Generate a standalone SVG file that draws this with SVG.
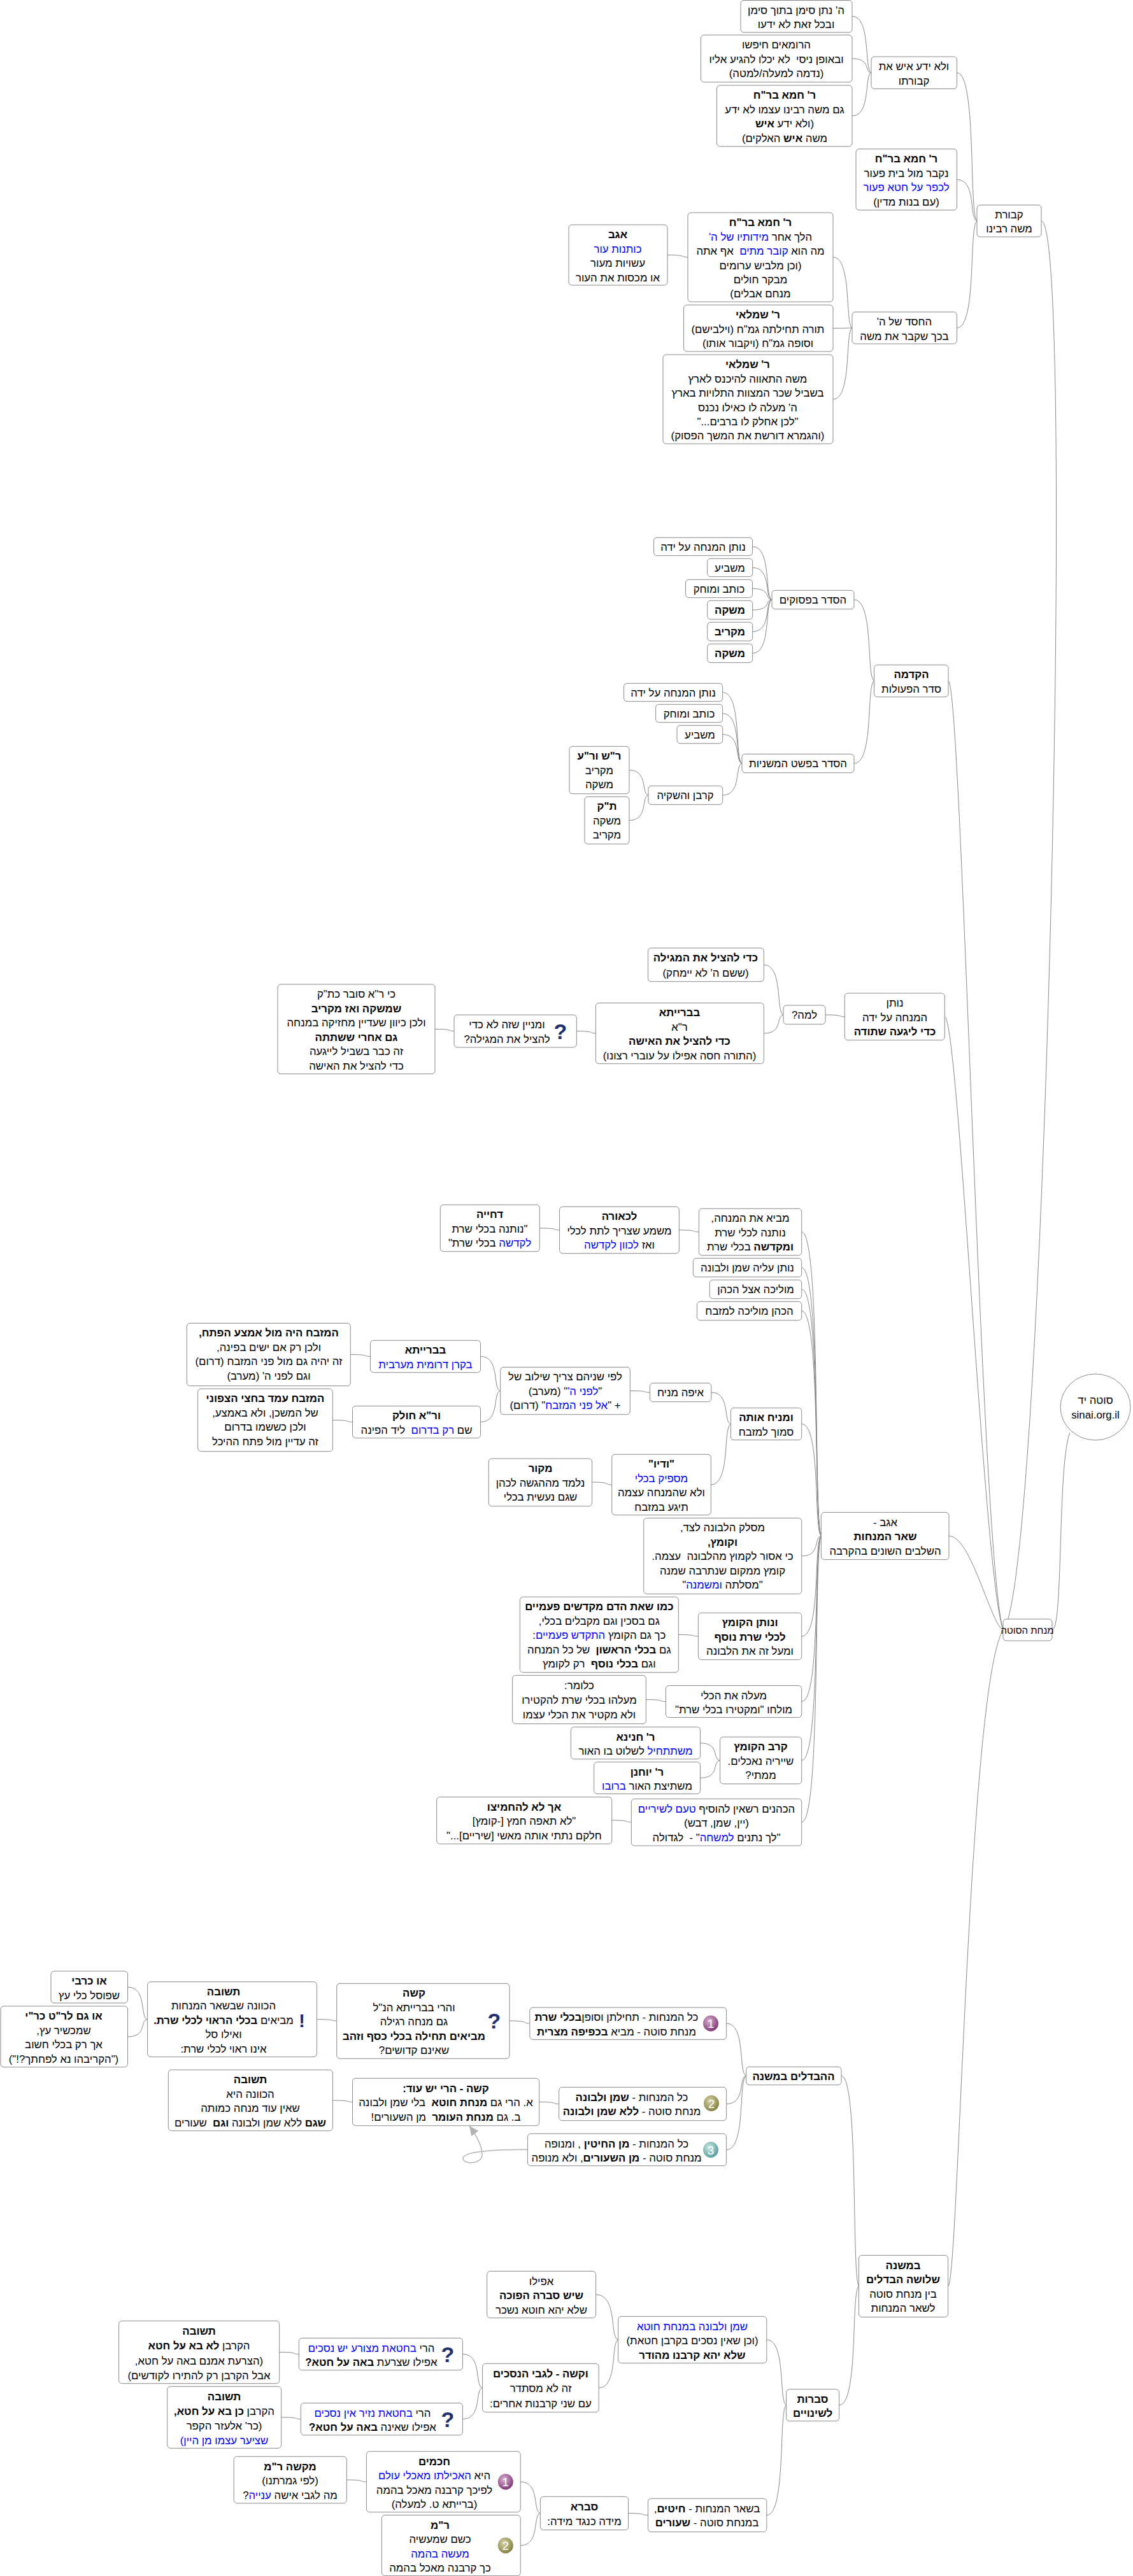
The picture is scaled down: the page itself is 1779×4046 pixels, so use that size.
<svg xmlns="http://www.w3.org/2000/svg" width="1779" height="4046" viewBox="0 0 1779 4046">
<style>
svg{background:#fff}
rect.b{fill:#fff;stroke:#888;stroke-width:1;rx:5px;ry:5px}
text{font-family:"Liberation Sans","Noto Sans",Arial,sans-serif;font-size:16.8px;fill:#000;text-anchor:middle;direction:rtl;white-space:pre}
.h{font-weight:bold}
.u{fill:#00f}
#conn path{fill:none;stroke:#888;stroke-width:1}
#conn path.loop{stroke:#b3b3b3;stroke-width:1.5}
.q{font-family:"Liberation Sans",sans-serif;font-size:34px;font-weight:bold;fill:#1f2f6b;direction:ltr}
.num{font-size:19px;fill:#fff;direction:ltr}
</style>
<defs>
<marker id="ah" markerUnits="userSpaceOnUse" markerWidth="16" markerHeight="14" refX="15" refY="7" orient="auto"><path d="M0 0L15 7L0 14Z" fill="#b3b3b3"/></marker>
<radialGradient id="g1" cx=".4" cy=".35" r=".7"><stop offset="0" stop-color="#d8b4d0"/><stop offset="1" stop-color="#7a2f72"/></radialGradient>
<radialGradient id="g2" cx=".4" cy=".35" r=".7"><stop offset="0" stop-color="#d8d4a8"/><stop offset="1" stop-color="#7f7a3c"/></radialGradient>
<radialGradient id="g3" cx=".4" cy=".35" r=".7"><stop offset="0" stop-color="#cfe8e6"/><stop offset="1" stop-color="#4f9a9a"/></radialGradient>
</defs>
<g id="conn">
<path d="M1338 25.5C1368 25.5 1356.6 109.9 1368 114.3"/>
<path d="M1338 92C1368 92 1356.6 113.2 1368 114.3"/>
<path d="M1338 182C1368 182 1356.6 117.7 1368 114.3"/>
<path d="M1502.5 114.3C1534 114.3 1521 335.4 1534 347"/>
<path d="M1502.5 282C1534 282 1521 343.8 1534 347"/>
<path d="M1502.5 515C1534 515 1521 355.4 1534 347"/>
<path d="M1308 404C1338 404 1326.6 509.5 1338 515"/>
<path d="M1308 515.5C1338 515.5 1326.6 515 1338 515"/>
<path d="M1308 627C1338 627 1326.6 520.6 1338 515"/>
<path d="M1048 400.5C1080 400.5 1067 403.8 1080 404"/>
<path d="M1341 942C1372.5 942 1360 1063 1372.5 1069.5"/>
<path d="M1341 1199C1372.5 1199 1360 1076 1372.5 1069.5"/>
<path d="M1181.6 858.5C1212 858.5 1200 937.8 1212 942"/>
<path d="M1181.6 891.5C1212 891.5 1200 939.5 1212 942"/>
<path d="M1181.6 924.5C1212 924.5 1200 941 1212 942"/>
<path d="M1181.6 958C1212 958 1200 942.8 1212 942"/>
<path d="M1181.6 992C1212 992 1200 944.5 1212 942"/>
<path d="M1181.6 1026C1212 1026 1200 946.2 1212 942"/>
<path d="M1134.7 1087.5C1165 1087.5 1153.3 1193.4 1165 1199"/>
<path d="M1134.7 1120.5C1165 1120.5 1153.3 1195 1165 1199"/>
<path d="M1134.7 1153.5C1165 1153.5 1153.3 1196.7 1165 1199"/>
<path d="M1134.7 1249C1165 1249 1153.3 1201.5 1165 1199"/>
<path d="M988 1209.5C1018 1209.5 1006.6 1247 1018 1249"/>
<path d="M988 1288.5C1018 1288.5 1006.6 1251 1018 1249"/>
<path d="M1296 1594C1326.3 1594 1314.6 1596.8 1326.3 1597"/>
<path d="M1199.4 1515.4C1230 1515.4 1218 1590 1230 1594"/>
<path d="M1199.4 1623C1230 1623 1218 1595.5 1230 1594"/>
<path d="M905.3 1619.5C935.4 1619.5 924 1622.8 935.4 1623"/>
<path d="M683 1616.4C713 1616.4 701.6 1619.3 713 1619.5"/>
<path d="M1258.7 1935C1289.3 1935 1277.3 2388.6 1289.3 2412.5"/>
<path d="M1258.7 1991C1289.3 1991 1277.3 2391.4 1289.3 2412.5"/>
<path d="M1258.7 2025C1289.3 2025 1277.3 2393.1 1289.3 2412.5"/>
<path d="M1258.7 2059C1289.3 2059 1277.3 2394.8 1289.3 2412.5"/>
<path d="M1258.7 2236.5C1289.3 2236.5 1277.3 2403.7 1289.3 2412.5"/>
<path d="M1258.7 2444C1289.3 2444 1277.3 2414 1289.3 2412.5"/>
<path d="M1258.7 2570C1289.3 2570 1277.3 2420.4 1289.3 2412.5"/>
<path d="M1258.7 2672.5C1289.3 2672.5 1277.3 2425.5 1289.3 2412.5"/>
<path d="M1258.7 2765C1289.3 2765 1277.3 2430.1 1289.3 2412.5"/>
<path d="M1258.7 2862C1289.3 2862 1277.3 2435 1289.3 2412.5"/>
<path d="M1066.3 1932C1097.4 1932 1085 1934.8 1097.4 1935"/>
<path d="M847.4 1929C878.6 1929 866 1931.8 878.6 1932"/>
<path d="M1116.8 2187C1147.4 2187 1135.4 2234 1147.4 2236.5"/>
<path d="M1116.3 2332C1147.4 2332 1135 2241 1147.4 2236.5"/>
<path d="M989.3 2184.5C1020.4 2184.5 1008 2186.9 1020.4 2187"/>
<path d="M754.6 2130.5C785.7 2130.5 773 2181.8 785.7 2184.5"/>
<path d="M754.6 2233.5C785.7 2233.5 773 2187 785.7 2184.5"/>
<path d="M550.4 2127.5C581.5 2127.5 569 2130.3 581.5 2130.5"/>
<path d="M522.3 2230.5C553.5 2230.5 541 2233.3 553.5 2233.5"/>
<path d="M929.6 2328C960.7 2328 948 2331.8 960.7 2332"/>
<path d="M1065.3 2567.5C1096.4 2567.5 1084 2569.9 1096.4 2570"/>
<path d="M1014.3 2669.5C1045.4 2669.5 1033 2672.3 1045.4 2672.5"/>
<path d="M1099.5 2737.7C1130.6 2737.7 1118 2763.6 1130.6 2765"/>
<path d="M1099.5 2792.5C1130.6 2792.5 1118 2766.4 1130.6 2765"/>
<path d="M960.7 2859C991.3 2859 979 2861.8 991.3 2862"/>
<path d="M1321 3260.5C1348.4 3260.5 1337 3574 1348.4 3590.8"/>
<path d="M1317.6 3777.6C1348.4 3777.6 1336 3600 1348.4 3590.8"/>
<path d="M1140.6 3178C1171.6 3178 1159 3256.4 1171.6 3260.5"/>
<path d="M1140.6 3304.5C1171.6 3304.5 1159 3262.7 1171.6 3260.5"/>
<path d="M1140.6 3376.5C1171.6 3376.5 1159 3266.3 1171.6 3260.5"/>
<path d="M800 3174C831.8 3174 818.6 3177.8 831.8 3178"/>
<path d="M497.4 3171.7C528.6 3171.7 516 3173.9 528.6 3174"/>
<path d="M200.5 3121C231.6 3121 219 3169.2 231.6 3171.7"/>
<path d="M200.5 3199C231.6 3199 219 3173 231.6 3171.7"/>
<path d="M846.7 3301.5C877.7 3301.5 865 3304.3 877.7 3304.5"/>
<path d="M522.4 3299C553.6 3299 541 3301.4 553.6 3301.5"/>
<path d="M1203.8 3675C1234.6 3675 1222.4 3772.5 1234.6 3777.6"/>
<path d="M1203.8 3950.5C1234.6 3950.5 1222.4 3786 1234.6 3777.6"/>
<path d="M935.6 3604C970.6 3604 956.6 3671.4 970.6 3675"/>
<path d="M940.2 3750.5C970.6 3750.5 958.8 3679 970.6 3675"/>
<path d="M726.4 3697.5C757.6 3697.5 745 3748 757.6 3750.5"/>
<path d="M726.4 3799.5C757.6 3799.5 745 3753 757.6 3750.5"/>
<path d="M438.7 3694.5C469.3 3694.5 457 3697.4 469.3 3697.5"/>
<path d="M441.7 3796.8C472.3 3796.8 460 3799.4 472.3 3799.5"/>
<path d="M986.6 3947.5C1017.5 3947.5 1005 3950.4 1017.5 3950.5"/>
<path d="M817.2 3898C848.4 3898 836 3945 848.4 3947.5"/>
<path d="M817.2 3998C848.4 3998 836 3950 848.4 3947.5"/>
<path d="M544.3 3895C575.4 3895 563 3897.9 575.4 3898"/>
<path d="M1635 347C1690 347 1640 2500 1575 2560"/>
<path d="M1489 1069.5C1510 1069.5 1540 2440 1575 2560"/>
<path d="M1483.3 1597C1505 1597 1545 2480 1575 2560"/>
<path d="M1490 2412.5C1525 2412.5 1555 2550 1575 2560"/>
<path d="M1488.6 3590.8C1505 3590.8 1520 2650 1575 2560"/>
<path d="M1652 2560C1670 2560 1660 2300 1680 2250"/>
<path class="loop" marker-end="url(#ah)" d="M828.4 3376.3C770 3376 727 3380 727 3390C727 3400 757 3400 757 3384C757 3368 745 3350 737 3339"/>
</g>
<g id="root"><ellipse cx="1720" cy="2210" rx="55" ry="52" fill="#fff" stroke="#888"/><text x="1720" y="2205">סוטה יד</text><text x="1720" y="2228">sinai.org.il</text></g>
<g id="main"><rect class="b" x="1575" y="2543" width="77" height="34"/><text x="1613" y="2566" style="font-size:15px">מנחת הסוטה</text></g>
<g id="n1"><rect class="b" x="1163" y=".5" width="175" height="50.4"/><text x="1250" y="21.5">ה' נתן סימן בתוך סימן</text><text x="1250" y="44">ובכל זאת לא ידעו</text></g>
<g id="n2"><rect class="b" x="1100.5" y="55" width="237.5" height="74"/><text x="1219" y="76">הרומאים חיפשו</text><text x="1219" y="98.5">ובאופן ניסי  לא יכלו להגיע אליו</text><text x="1219" y="121">(נדמה למעלה/למטה)</text></g>
<g id="n3"><rect class="b" x="1125.5" y="134" width="212.5" height="96"/><text class="h" x="1232" y="155">ר' חמא בר"ח</text><text x="1232" y="177.5">גם משה רבינו עצמו לא ידע</text><text x="1232" y="200">(ולא ידע <tspan class="h">איש</tspan></text><text x="1232" y="222.5">משה <tspan class="h">איש</tspan> האלקים)</text></g>
<g id="n4"><rect class="b" x="1368" y="89" width="134.5" height="50.5"/><text x="1435" y="110">ולא ידע איש את</text><text x="1435" y="132.5">קבורתו</text></g>
<g id="n5"><rect class="b" x="1344" y="234" width="158.5" height="96"/><text class="h" x="1423" y="255">ר' חמא בר"ח</text><text x="1423" y="277.5">נקבר מול בית פעור</text><text class="u" x="1423" y="300">לכפר על חטא פעור</text><text x="1423" y="322.5">(עם בנות מדין)</text></g>
<g id="n6"><rect class="b" x="1534" y="322" width="101" height="50"/><text x="1584.5" y="343">קבורת</text><text x="1584.5" y="365">משה רבינו</text></g>
<g id="n7"><rect class="b" x="1080" y="334" width="228" height="140"/><text class="h" x="1194" y="355">ר' חמא בר"ח</text><text x="1194" y="377.5">הלך אחר <tspan class="u">מידותיו של ה'</tspan></text><text x="1194" y="400">מה הוא <tspan class="u">קובר מתים</tspan>  אף אתה</text><text x="1194" y="422.5">(וכן מלביש ערומים</text><text x="1194" y="445">מבקר חולים</text><text x="1194" y="467">מנחם אבלים)</text></g>
<g id="n8"><rect class="b" x="893" y="353" width="155" height="95"/><text class="h" x="970" y="374">אגב</text><text class="u" x="970" y="396.5">כותנות עור</text><text x="970" y="419">עשויות מעור</text><text x="970" y="441.5">או מכסות את העור</text></g>
<g id="n9"><rect class="b" x="1073.5" y="479" width="234.5" height="73"/><text class="h" x="1190" y="500">ר' שמלאי</text><text x="1190" y="522.5">תורה תחילתה גמ"ח (וילבישם)</text><text x="1190" y="545">וסופה גמ"ח (ויקבור אותו)</text></g>
<g id="n10"><rect class="b" x="1041" y="557" width="267" height="140"/><text class="h" x="1174" y="578">ר' שמלאי</text><text x="1174" y="600.5">משה התאווה להיכנס לארץ</text><text x="1174" y="623">בשביל שכר המצוות התלויות בארץ</text><text x="1174" y="645.5">ה' מעלה לו כאילו נכנס</text><text x="1174" y="668">"לכן אחלק לו ברבים..."</text><text x="1174" y="690">(והגמרא דורשת את המשך הפסוק)</text></g>
<g id="n11"><rect class="b" x="1338" y="490" width="164.5" height="50"/><text x="1420" y="511">החסד של ה'</text><text x="1420" y="533.5">בכך שקבר את משה</text></g>
<g id="n12"><rect class="b" x="1026.5" y="844.3" width="155" height="28.4"/><text x="1104" y="865">נותן המנחה על ידה</text></g>
<g id="n13"><rect class="b" x="1110.7" y="877.3" width="71" height="28.4"/><text x="1146" y="898">משביע</text></g>
<g id="n14"><rect class="b" x="1076.5" y="910.3" width="105" height="28.4"/><text x="1129" y="931">כותב ומוחק</text></g>
<g id="n15"><rect class="b" x="1110.7" y="943.3" width="71" height="29.4"/><text class="h" x="1146" y="964">משקה</text></g>
<g id="n16"><rect class="b" x="1110.7" y="977.3" width="71" height="29.4"/><text class="h" x="1146" y="998">מקריב</text></g>
<g id="n17"><rect class="b" x="1110.7" y="1011.3" width="71" height="29.4"/><text class="h" x="1146" y="1032">משקה</text></g>
<g id="n18"><rect class="b" x="1212" y="927.3" width="129" height="29.4"/><text x="1276.5" y="948">הסדר בפסוקים</text></g>
<g id="n19"><rect class="b" x="1372.5" y="1044.3" width="116.5" height="50.4"/><text class="h" x="1431" y="1065">הקדמה</text><text x="1431" y="1087.5">סדר הפעולות</text></g>
<g id="n20"><rect class="b" x="979.6" y="1073.3" width="155" height="28.4"/><text x="1057" y="1094">נותן המנחה על ידה</text></g>
<g id="n21"><rect class="b" x="1029.6" y="1106.3" width="105" height="28.4"/><text x="1082" y="1127">כותב ומוחק</text></g>
<g id="n22"><rect class="b" x="1063" y="1139.3" width="71.7" height="28.4"/><text x="1099" y="1160">משביע</text></g>
<g id="n23"><rect class="b" x="1165" y="1184.3" width="176" height="29.4"/><text x="1253" y="1205">הסדר בפשט המשניות</text></g>
<g id="n24"><rect class="b" x="1018" y="1234.3" width="116.7" height="29.4"/><text x="1076" y="1255">קרבן והשקיה</text></g>
<g id="n25"><rect class="b" x="894" y="1172.3" width="94" height="74.4"/><text class="h" x="941" y="1193">ר"ש ור"ע</text><text x="941" y="1215.5">מקריב</text><text x="941" y="1238">משקה</text></g>
<g id="n26"><rect class="b" x="918" y="1251.3" width="70" height="74.4"/><text class="h" x="953" y="1272">ת"ק</text><text x="953" y="1294.5">משקה</text><text x="953" y="1317">מקריב</text></g>
<g id="n27"><rect class="b" x="1326.3" y="1560" width="157" height="73.7"/><text x="1405" y="1581">נותן</text><text x="1405" y="1603.5">המנחה על ידה</text><text class="h" x="1405" y="1626">כדי ליגעה שתודה</text></g>
<g id="n28"><rect class="b" x="1230" y="1579" width="66" height="29.7"/><text x="1263" y="1600">למה?</text></g>
<g id="n29"><rect class="b" x="1017.5" y="1489" width="181.9" height="52.7"/><text class="h" x="1108" y="1510">כדי להציל את המגילה</text><text x="1108" y="1534">(ששם ה' לא יימחק)</text></g>
<g id="n30"><rect class="b" x="935.4" y="1575.3" width="264" height="95.4"/><text class="h" x="1067" y="1596">בברייתא</text><text x="1067" y="1618.5">ר"א</text><text class="h" x="1067" y="1641">כדי להציל את האישה</text><text x="1067" y="1663.5">(התורה חסה אפילו על עוברי רצונו)</text></g>
<g id="n31"><rect class="b" x="713" y="1594" width="192.3" height="51"/><text x="796" y="1615">ומניין שזה לא כדי</text><text x="796" y="1637.5">להציל את המגילה?</text><text class="q" x="880" y="1632">?</text></g>
<g id="n32"><rect class="b" x="436" y="1546" width="247" height="140.7"/><text x="559.5" y="1567">כי ר"א סובר כת"ק</text><text class="h" x="559.5" y="1589.5">שמשקה ואז מקריב</text><text x="559.5" y="1612">ולכן כיוון שעדיין מחזיקה במנחה</text><text class="h" x="559.5" y="1634.5">גם אחרי ששתתה</text><text x="559.5" y="1657">זה כבר בשביל לייגעה</text><text x="559.5" y="1679.5">כדי להציל את האישה</text></g>
<g id="n33"><rect class="b" x="691.3" y="1892.3" width="156" height="73.4"/><text class="h" x="769" y="1913">דחייה</text><text x="769" y="1935.5">"נותנה בכלי שרת</text><text x="769" y="1958"><tspan class="u">לקדשה</tspan> בכלי שרת"</text></g>
<g id="n34"><rect class="b" x="878.6" y="1895.3" width="187.7" height="73.4"/><text class="h" x="972.5" y="1916">לכאורה</text><text x="972.5" y="1938.5">משמע שצריך לתת לכלי</text><text x="972.5" y="1961">ואז <tspan class="u">לכוון לקדשה</tspan></text></g>
<g id="n35"><rect class="b" x="1097.4" y="1898.3" width="161.3" height="73.4"/><text x="1178" y="1919">מביא את המנחה,</text><text x="1178" y="1941.5">נותנה לכלי שרת</text><text x="1178" y="1964"><tspan class="h">ומקדשה</tspan> בכלי שרת</text></g>
<g id="n36"><rect class="b" x="1088.3" y="1976.3" width="170.4" height="29.4"/><text x="1173.5" y="1997">נותן עליה שמן ולבונה</text></g>
<g id="n37"><rect class="b" x="1114.3" y="2010.3" width="144.4" height="29.4"/><text x="1186.5" y="2031">מוליכה אצל הכהן</text></g>
<g id="n38"><rect class="b" x="1094.4" y="2044.3" width="164.3" height="29.4"/><text x="1176.5" y="2065">הכהן מוליכה למזבח</text></g>
<g id="n39"><rect class="b" x="1147.4" y="2211.3" width="111.3" height="50.4"/><text class="h" x="1203" y="2232">ומניח אותה</text><text x="1203" y="2254.5">סמוך למזבח</text></g>
<g id="n40"><rect class="b" x="1020.4" y="2172.3" width="96.4" height="29.4"/><text x="1068.5" y="2193">איפה מניח</text></g>
<g id="n41"><rect class="b" x="785.7" y="2147.3" width="203.6" height="74.4"/><text x="887.5" y="2168">לפי שניהם צריך שילוב של</text><text x="887.5" y="2190.5">"<tspan class="u">לפני ה'</tspan>" (מערב)</text><text x="887.5" y="2213">+ "<tspan class="u">אל פני המזבח</tspan>" (דרום)</text></g>
<g id="n42"><rect class="b" x="581.5" y="2105.3" width="173" height="50.4"/><text class="h" x="668" y="2126">בברייתא</text><text class="u" x="668" y="2148.5">בקרן דרומית מערבית</text></g>
<g id="n43"><rect class="b" x="553.5" y="2208.3" width="201" height="50.4"/><text class="h" x="654" y="2229">ור"א חולק</text><text x="654" y="2251.5">שם <tspan class="u">רק בדרום</tspan>  ליד הפינה</text></g>
<g id="n44"><rect class="b" x="293.3" y="2078.3" width="257" height="98.4"/><text class="h" x="422" y="2099">המזבח היה מול אמצע הפתח,</text><text x="422" y="2121.5">ולכן רק אם ישים בפינה,</text><text x="422" y="2144">זה יהיה גם מול פני המזבח (דרום)</text><text x="422" y="2166.5">וגם לפני ה' (מערב)</text></g>
<g id="n45"><rect class="b" x="310.6" y="2181.3" width="211.7" height="98.4"/><text class="h" x="416.5" y="2202">המזבח עמד בחצי הצפוני</text><text x="416.5" y="2224.5">של המשכן, ולא באמצע,</text><text x="416.5" y="2247">ולכן כששמו בדרום</text><text x="416.5" y="2269.5">זה עדיין מול פתח ההיכל</text></g>
<g id="n46"><rect class="b" x="960.7" y="2284.3" width="155.6" height="95.3"/><text class="h" x="1038.5" y="2305">"ודיו"</text><text class="u" x="1038.5" y="2327.5">מספיק בכלי</text><text x="1038.5" y="2350">ולא שהמנחה עצמה</text><text x="1038.5" y="2372.5">תיגע במזבח</text></g>
<g id="n47"><rect class="b" x="767.3" y="2291" width="162.3" height="74.7"/><text class="h" x="848.5" y="2312">מקור</text><text x="848.5" y="2334.5">נלמד מההגשה לכהן</text><text x="848.5" y="2357">שגם נעשית בכלי</text></g>
<g id="n48"><rect class="b" x="1010.7" y="2384.3" width="248" height="119.3"/><text x="1134.5" y="2405">מסלק הלבונה לצד,</text><text class="h" x="1134.5" y="2427.5">וקומץ,</text><text x="1134.5" y="2450">כי אסור לקמוץ מהלבונה  עצמה.</text><text x="1134.5" y="2472.5">קומץ ממקום שנתרבה שמנה</text><text x="1134.5" y="2495">"מסלתה <tspan class="u">ומשמנה</tspan>"</text></g>
<g id="n49"><rect class="b" x="816.3" y="2508.2" width="249" height="118.6"/><text class="h" x="940.8" y="2529">כמו שאת הדם מקדשים פעמיים</text><text x="940.8" y="2551.5">גם בסכין וגם מקבלים בכלי,</text><text x="940.8" y="2574">כך גם הקומץ <tspan class="u">התקדש פעמיים</tspan>:</text><text x="940.8" y="2596.5">גם <tspan class="h">בכלי הראשון</tspan>  של כל המנחה</text><text x="940.8" y="2619">וגם <tspan class="h">בכלי נוסף</tspan>  רק לקומץ</text></g>
<g id="n50"><rect class="b" x="1096.4" y="2533.2" width="162.3" height="73.6"/><text class="h" x="1177.5" y="2554">ונותן הקומץ</text><text class="h" x="1177.5" y="2576.5">לכלי שרת נוסף</text><text x="1177.5" y="2599">ומעל זה את הלבונה</text></g>
<g id="n51"><rect class="b" x="804.6" y="2631.4" width="209.7" height="76.1"/><text x="909.5" y="2652.5">כלומר:</text><text x="909.5" y="2676">מעלהו בכלי שרת להקטירו</text><text x="909.5" y="2698.5">ולא מקטיר את הכלי עצמו</text></g>
<g id="n52"><rect class="b" x="1045.4" y="2647.5" width="213.3" height="50"/><text x="1152" y="2668.5">מעלה את הכלי</text><text x="1152" y="2691">מולחו "ומקטירו בכלי שרת"</text></g>
<g id="n53"><rect class="b" x="896.4" y="2712.5" width="203.1" height="50.4"/><text class="h" x="998" y="2733.5">ר' חנינא</text><text x="998" y="2756"><tspan class="u">משתתחיל</tspan> לשלוט בו האור</text></g>
<g id="n54"><rect class="b" x="932.7" y="2767.5" width="166.8" height="50"/><text class="h" x="1016" y="2788.5">ר' יוחנן</text><text x="1016" y="2811">משתיצת האור <tspan class="u">ברובו</tspan></text></g>
<g id="n55"><rect class="b" x="1130.6" y="2728.2" width="128.1" height="73.6"/><text class="h" x="1194.5" y="2749">קרב הקומץ</text><text x="1194.5" y="2771.5">שייריה נאכלים.</text><text x="1194.5" y="2794">ממתי?</text></g>
<g id="n56"><rect class="b" x="991.3" y="2825.4" width="267.4" height="73.6"/><text x="1125" y="2846.5">הכהנים רשאין להוסיף <tspan class="u">טעם לשיריים</tspan></text><text x="1125" y="2869">(יין, שמן, דבש)</text><text x="1125" y="2891.5">"לך נתנים <tspan class="u">למשחה</tspan>" -  לגדולה</text></g>
<g id="n57"><rect class="b" x="685.7" y="2822.5" width="275" height="73.6"/><text class="h" x="823" y="2843.5">אך לא להחמיצו</text><text x="823" y="2866">"לא תאפה חמץ [-קומץ]</text><text x="823" y="2888.5">חלקם נתתי אותה מאשי [שיריים]..."</text></g>
<g id="n58"><rect class="b" x="1289.3" y="2375.4" width="200.7" height="74.2"/><text x="1390" y="2396.5">אגב -</text><text class="h" x="1390" y="2419">שאר המנחות</text><text x="1390" y="2441.5">השלבים השונים בהקרבה</text></g>
<g id="n59"><rect class="b" x="1348.4" y="3542.3" width="140.2" height="97"/><text class="h" x="1418" y="3563.5">במשנה</text><text class="h" x="1418" y="3586">שלושה הבדלים</text><text x="1418" y="3608.5">בין מנחת סוטה</text><text x="1418" y="3631">לשאר המנחות</text></g>
<g id="n60"><rect class="b" x="1171.6" y="3246.3" width="149.4" height="28.4"/><text class="h" x="1246" y="3267">ההבדלים במשנה</text></g>
<g id="n61"><rect class="b" x="831.8" y="3153" width="308.8" height="50.3"/><text x="968" y="3174">כל המנחות - תחילתן וסופן<tspan class="h">בכלי שרת</tspan></text><text x="968" y="3196.5">מנחת סוטה - מביא <tspan class="h">בכפיפה מצרית</tspan></text><ellipse cx="1116" cy="3178" rx="12" ry="12.5" fill="url(#g1)"/><text class="num" x="1116" y="3185">1</text></g>
<g id="n62"><rect class="b" x="877.7" y="3278.3" width="262.9" height="52.4"/><text x="992" y="3299.5">כל המנחות - <tspan class="h">שמן ולבונה</tspan></text><text x="992" y="3322">מנחת סוטה - <tspan class="h">ללא שמן ולבונה</tspan></text><ellipse cx="1117" cy="3303.5" rx="12" ry="12.5" fill="url(#g2)"/><text class="num" x="1117" y="3310.5">2</text></g>
<g id="n63"><rect class="b" x="828.4" y="3351.3" width="312.2" height="50.4"/><text x="968" y="3372.5">כל המנחות - <tspan class="h">מן החיטין</tspan> , ומנופה</text><text x="968" y="3395">מנחת סוטה - <tspan class="h">מן השעורים</tspan>, ולא מנופה</text><ellipse cx="1116" cy="3376.5" rx="12" ry="12.5" fill="url(#g3)"/><text class="num" x="1116" y="3383.5">3</text></g>
<g id="n64"><rect class="b" x="528.7" y="3115.3" width="271.3" height="118"/><text class="h" x="650" y="3136">קשה</text><text x="650" y="3158.5">והרי בברייתא הנ"ל</text><text x="650" y="3181">גם מנחה רגילה</text><text class="h" x="650" y="3203.5">מביאים תחילה בכלי כסף וזהב</text><text x="650" y="3226">שאינם קדושים?</text><text class="q" x="776" y="3186">?</text></g>
<g id="n65"><rect class="b" x="231.6" y="3112.7" width="265.8" height="118"/><text class="h" x="351" y="3133.5">תשובה</text><text x="351" y="3156">הכוונה שבשאר המנחות</text><text x="351" y="3178.5">מביאים <tspan class="h">בכלי הראוי לכלי שרת.</tspan></text><text x="351" y="3201">ואילו סל</text><text x="351" y="3223.5">אינו ראוי לכלי שרת:</text><text class="q" x="474" y="3184" style="font-size:30px">!</text></g>
<g id="n66"><rect class="b" x="80" y="3096" width="120.5" height="50"/><text class="h" x="140" y="3117">או כרבי</text><text x="140" y="3139.5">שפוסל כלי עץ</text></g>
<g id="n67"><rect class="b" x="1" y="3151" width="199.5" height="95.7"/><text class="h" x="100" y="3172">או גם לר"ט כר"י</text><text x="100" y="3194.5">שמכשיר עץ,</text><text x="100" y="3217">אך רק בכלי חשוב</text><text x="100" y="3239.5">("הקריבהו נא לפחתך?!")</text></g>
<g id="n68"><rect class="b" x="553.5" y="3264.3" width="293.2" height="74.4"/><text class="h" x="700" y="3285.5">קשה - הרי יש עוד:</text><text x="700" y="3308">א. הרי גם <tspan class="h">מנחת חוטא</tspan>  בלי שמן ולבונה</text><text x="700" y="3330.5">ב. גם <tspan class="h">מנחת העומר</tspan>  מן השעורים!</text></g>
<g id="n69"><rect class="b" x="264.3" y="3251" width="258.1" height="95.7"/><text class="h" x="393" y="3272">תשובה</text><text x="393" y="3294.5">הכוונה היא</text><text x="393" y="3317">שאין עוד מנחה כמותה</text><text x="393" y="3339.5"><tspan class="h">שגם</tspan> ללא שמן ולבונה <tspan class="h">וגם</tspan>  שעורים</text></g>
<g id="n70"><rect class="b" x="1234.6" y="3752.6" width="83" height="50"/><text class="h" x="1276" y="3773.5">סברות</text><text class="h" x="1276" y="3796">לשינויים</text></g>
<g id="n71"><rect class="b" x="970.6" y="3638.3" width="233.2" height="73.4"/><text class="u" x="1087" y="3659.5">שמן ולבונה במנחת חוטא</text><text x="1087" y="3682">(וכן שאין נסכים בקרבן חטאת)</text><text class="h" x="1087" y="3704.5">שלא יהא קרבנו מהודר</text></g>
<g id="n72"><rect class="b" x="764.7" y="3567.3" width="170.9" height="73.4"/><text x="850" y="3588.5">אפילו</text><text class="h" x="850" y="3611">שיש סברה הפוכה</text><text x="850" y="3633.5">שלא יהא חוטא נשכר</text></g>
<g id="n73"><rect class="b" x="757.6" y="3712.3" width="182.6" height="76.4"/><text class="h" x="849" y="3733.5">וקשה - לגבי הנסכים</text><text x="849" y="3757">זה לא מסתדר</text><text x="849" y="3780.5">עם שני קרבנות אחרים:</text></g>
<g id="n74"><rect class="b" x="469.3" y="3672.3" width="257.1" height="50.4"/><text x="583" y="3693.5">הרי <tspan class="u">בחטאת מצורע יש נסכים</tspan></text><text x="583" y="3716">אפילו שצרעת <tspan class="h">באה על חטא?</tspan></text><text class="q" x="703" y="3710">?</text></g>
<g id="n75"><rect class="b" x="472.3" y="3774.3" width="254.1" height="50.4"/><text x="585" y="3795.5">הרי <tspan class="u">בחטאת נזיר אין נסכים</tspan></text><text x="585" y="3818">אפילו שאינה <tspan class="h">באה על חטא?</tspan></text><text class="q" x="703" y="3812">?</text></g>
<g id="n76"><rect class="b" x="186.6" y="3645.3" width="252.1" height="98.4"/><text class="h" x="312.5" y="3666.5">תשובה</text><text x="312.5" y="3690">הקרבן <tspan class="h">לא בא על חטא</tspan></text><text x="312.5" y="3714">(הצרעת אמנם באה על חטא,</text><text x="312.5" y="3737">אבל הקרבן רק להתירו לקודשים)</text></g>
<g id="n77"><rect class="b" x="262.7" y="3748.3" width="179" height="97"/><text class="h" x="352" y="3769.5">תשובה</text><text x="352" y="3793">הקרבן <tspan class="h">כן בא על חטא,</tspan></text><text x="352" y="3816">(כר' אלעזר הקפר</text><text class="u" x="352" y="3838.5">שציער עצמו מן היין)</text></g>
<g id="n78"><rect class="b" x="1017.5" y="3924.3" width="186.3" height="52.4"/><text x="1110" y="3945.5">בשאר המנחות - <tspan class="h">חיטים</tspan>,</text><text x="1110" y="3968">במנחת סוטה - <tspan class="h">שעורים</tspan></text></g>
<g id="n79"><rect class="b" x="848.4" y="3921.3" width="138.2" height="52.4"/><text class="h" x="917.5" y="3942.5">סברא</text><text x="917.5" y="3966">מידה כנגד מידה:</text></g>
<g id="n80"><rect class="b" x="575.4" y="3850.3" width="241.8" height="95.4"/><text class="h" x="682" y="3871.5">חכמים</text><text x="682" y="3894">היא <tspan class="u">האכילתו מאכלי עולם</tspan></text><text x="682" y="3916.5">לפיכך קרבנה מאכל בהמה</text><text x="682" y="3939">(ברייתא ט. למעלה)</text><ellipse cx="793.8" cy="3898" rx="12" ry="12.5" fill="url(#g1)"/><text class="num" x="793.8" y="3905">1</text></g>
<g id="n81"><rect class="b" x="367.2" y="3858.3" width="177.1" height="73.4"/><text class="h" x="455.5" y="3879.5">מקשה ר"מ</text><text x="455.5" y="3902">(לפי גמרתנו)</text><text x="455.5" y="3924.5">מה לגבי אישה <tspan class="u">ענייה</tspan>?</text></g>
<g id="n82"><rect class="b" x="599.4" y="3950.3" width="217.8" height="95.4"/><text class="h" x="691" y="3971.5">ר"מ</text><text x="691" y="3994">כשם שמעשיה</text><text class="u" x="691" y="4016.5">מעשה בהמה</text><text x="691" y="4039">כך קרבנה מאכל בהמה</text><ellipse cx="793.8" cy="3998" rx="12" ry="12.5" fill="url(#g2)"/><text class="num" x="793.8" y="4005">2</text></g>
</svg>
